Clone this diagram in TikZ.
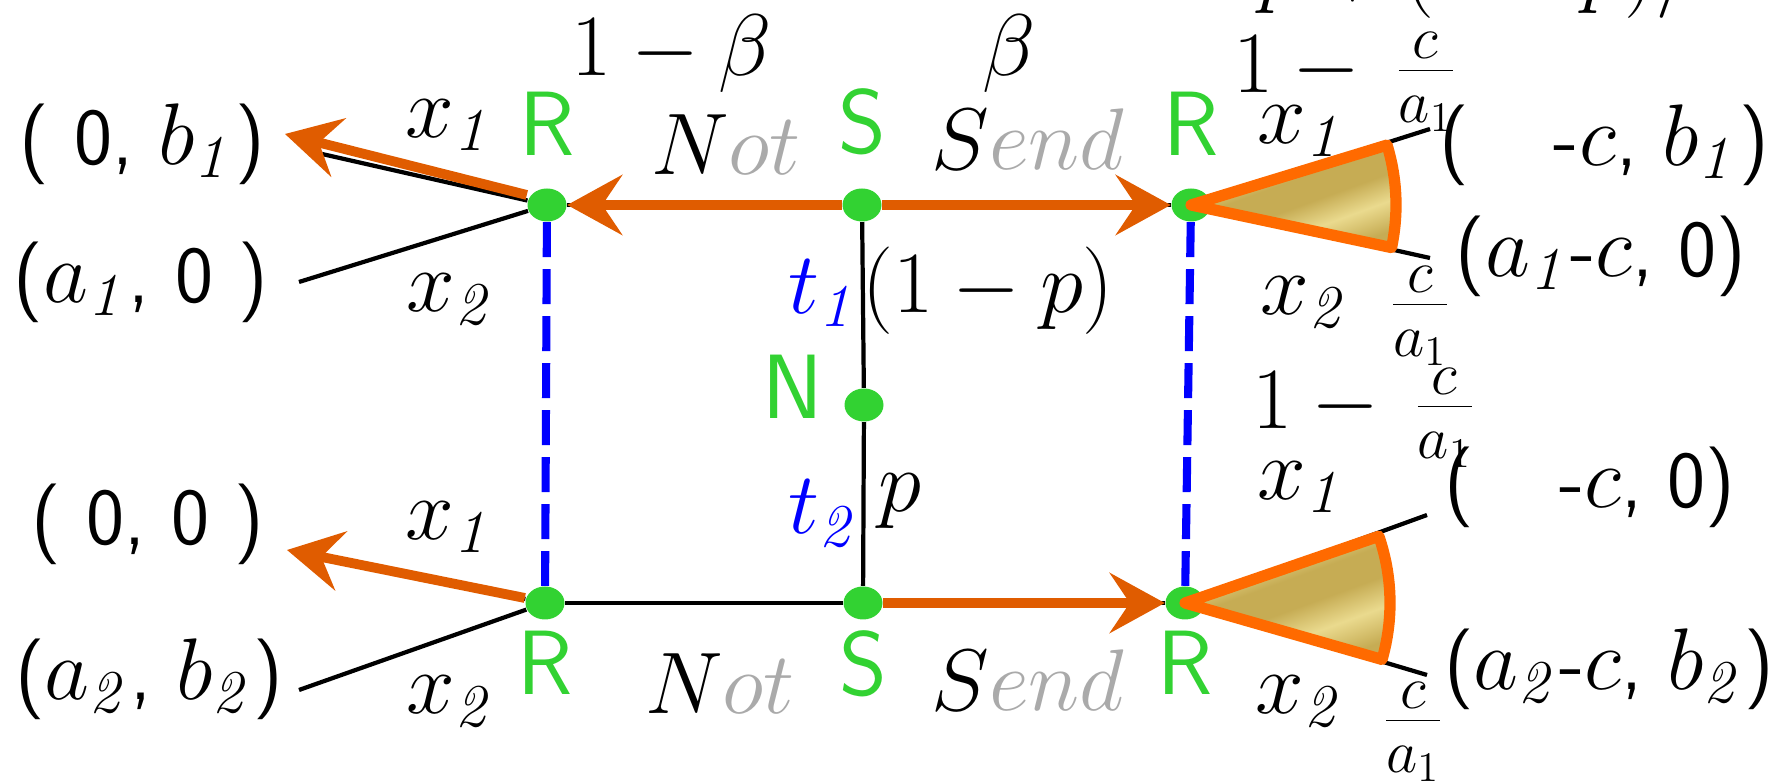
\documentclass[tikz,border=0pt]{standalone}
\usetikzlibrary{arrows.meta,positioning,shapes.geometric}
\definecolor{DotGreen}{RGB}{50,210,50}
\definecolor{ArrowOrange}{RGB}{224,92,0}
\definecolor{WedgeOrange}{RGB}{255,106,0}
\definecolor{GoldDark}{RGB}{198,172,84}
\definecolor{GoldLight}{RGB}{234,218,142}
\definecolor{TextGray}{RGB}{170,170,170}
\pgfdeclareverticalshading{goldbands}{100bp}{color(0bp)=(GoldDark); color(25bp)=(GoldDark); color(36bp)=(GoldLight); color(46bp)=(GoldDark); color(56bp)=(GoldDark); color(66bp)=(GoldLight); color(78bp)=(GoldDark); color(100bp)=(GoldDark)}

\begin{document}
\begin{tikzpicture}[
    font=\fontsize{23}{27}\selectfont,
    dot/.style={ellipse, fill=DotGreen, minimum width=3.9mm, minimum height=3.3mm, inner sep=0pt},
    player/.style={text=DotGreen, font=\fontsize{26}{30}\selectfont\sffamily, inner sep=0pt},
    payoff/.style={font=\fontsize{23}{27}\selectfont\sffamily, inner sep=0pt},
    branch/.style={line width=1.2pt},
    choice/.style={line width=2.8pt, draw=ArrowOrange, -{Stealth[length=5.5mm, width=6mm, inset=2mm]}},
    info/.style={line width=2.3pt, draw=blue, dash pattern=on 3.5mm off 1.2mm},
    mixed/.style={line width=3.2pt, draw=WedgeOrange, line join=round, shade, shading=goldbands, shading angle=20},
]
\useasboundingbox (0,0) rectangle (17.87,7.83);

% decision nodes
\node[dot] (st) at (8.62,5.78) {};
\node[dot] (n) at (8.64,3.78) {};
\node[dot] (sb) at (8.63,1.80) {};
\node[dot] (rtl) at (5.47,5.78) {};
\node[dot] (rbl) at (5.45,1.80) {};
\node[dot] (rtr) at (11.91,5.78) {};
\node[dot] (rbr) at (11.85,1.80) {};

\node[player, above=3.2mm of st] (st-lab) {S};
\node[player, below=1mm of sb] (sb-lab) {S};
\node[player, left=2mm of n, yshift=1.8mm] (n-lab) {N};
\node[player, above=3.2mm of rtl] (rtl-lab) {R};
\node[player, below=1mm of rbl] (rbl-lab) {R};
\node[player, above=3.2mm of rtr] (rtr-lab) {R};
\node[player, below=1mm of rbr] (rbr-lab) {R};

% free ends of the branches
\coordinate (tl-x1) at (3.22,6.29);
\coordinate (tl-x2) at (2.99,5.01);
\coordinate (tl-pick) at (2.85,6.49);
\coordinate (bl-x1) at (3.30,2.24);
\coordinate (bl-x2) at (2.99,0.93);
\coordinate (bl-pick) at (2.87,2.33);
\coordinate (tr-x1) at (14.30,6.54);
\coordinate (tr-x2) at (14.30,5.25);
\coordinate (br-x1) at (14.27,2.68);
\coordinate (br-x2) at (14.27,1.08);

% tree
\draw[branch] (st) -- (n) -- (sb);
\draw[branch] (rtl) -- (st) -- (rtr);
\draw[branch] (rbl) -- (sb) -- (rbr);
\draw[branch] (rtl) -- (tl-x1);
\draw[branch] (rtl) -- (tl-x2);
\draw[branch] (rbl) -- (bl-x1);
\draw[branch] (rbl) -- (bl-x2);
\draw[branch] (rtr) -- (tr-x1);
\draw[branch] (rtr) -- (tr-x2);
\draw[branch] (rbr) -- (br-x1);
\draw[branch] (rbr) -- (br-x2);

% information sets
\draw[info] (rtl) -- (rbl);
\draw[info] (rtr) -- (rbr);

% chosen actions
\draw[choice] (st) -- (rtl);
\draw[choice] (st) -- (rtr);
\draw[choice] (sb) -- (rbr);
\draw[choice] ([yshift=1mm]rtl.west) -- (tl-pick);
\draw[choice] ([yshift=0.5mm]rbl.west) -- (bl-pick);

% mixed responses
\draw[mixed] (rtr.center) -- ++(17:2.05) arc[start angle=17, end angle=-12, radius=2.05] -- cycle;
\draw[mixed] (rbr.center) -- ++(19:2.05) arc[start angle=19, end angle=-16, radius=2.05] -- cycle;

% probabilities and moves
\node (cut) [anchor=base west, inner sep=0pt] at (12.58,7.86) {$p+(1-p)/$};
\node (nb) at (6.72,7.29) {$1-\beta$};
\node (b) at (10.09,7.29) {$\beta$};
\node (not-t) at (7.26,6.38) {$N$\textcolor{TextGray}{$ot$}};
\node (send-t) at (10.28,6.44) {$S$\textcolor{TextGray}{$end$}};
\node (not-b) at (7.20,0.99) {$N$\textcolor{TextGray}{$ot$}};
\node (send-b) at (10.28,1.03) {$S$\textcolor{TextGray}{$end$}};
\node (t1) at (8.24,4.90) {\color{blue}$t_{\mathit{1}}$};
\node (t2) at (8.24,2.70) {\color{blue}$t_{\mathit{2}}$};
\node (q1) at (9.88,4.92) {$(1-p)$};
\node (q2) at (9.00,2.82) {$p$};

% receiver branches
\node (tl-a1) at (4.50,6.58) {$x_{\mathit{1}}$};
\node (tl-a2) at (4.51,4.84) {$x_{\mathit{2}}$};
\node (bl-a1) at (4.50,2.56) {$x_{\mathit{1}}$};
\node (bl-a2) at (4.51,0.82) {$x_{\mathit{2}}$};
\node (tr-a1) at (13.02,6.52) {$x_{\mathit{1}}$};
\node (tr-a2) at (13.05,4.81) {$x_{\mathit{2}}$};
\node (br-a1) at (13.02,2.96) {$x_{\mathit{1}}$};
\node (br-a2) at (13.00,0.82) {$x_{\mathit{2}}$};
\node (tr-w1) at (13.45,7.01) {$1-\,\frac{c}{a_1}$};
\node (tr-w2) at (14.20,4.67) {$\frac{c}{a_1}$};
\node (br-w1) at (13.64,3.65) {$1-\,\frac{c}{a_1}$};
\node (br-w2) at (14.13,0.51) {$\frac{c}{a_1}$};

% payoffs
\node[payoff] (u1) at (1.42,6.39) {( 0, $b_{\mathit{1}}$)};
\node[payoff] (u2) at (1.41,5.01) {($a_{\mathit{1}}$, 0 )};
\node[payoff] (u3) at (1.48,2.59) {( 0, 0 )};
\node[payoff] (u4) at (1.49,1.04) {($a_{\mathit{2}}$, $b_{\mathit{2}}$)};
\node[payoff] (u5) at (16.04,6.38) {(\hphantom{$a_{\mathit{1}}$}-$c$, $b_{\mathit{1}}$)};
\node[payoff] (u6) at (16.01,5.27) {($a_{\mathit{1}}$-$c$, 0)};
\node[payoff] (u7) at (15.90,2.96) {(\hphantom{$a_{\mathit{1}}$}-$c$, 0)};
\node[payoff] (u8) at (16.09,1.14) {($a_{\mathit{2}}$-$c$, $b_{\mathit{2}}$)};

\end{tikzpicture}
\end{document}
